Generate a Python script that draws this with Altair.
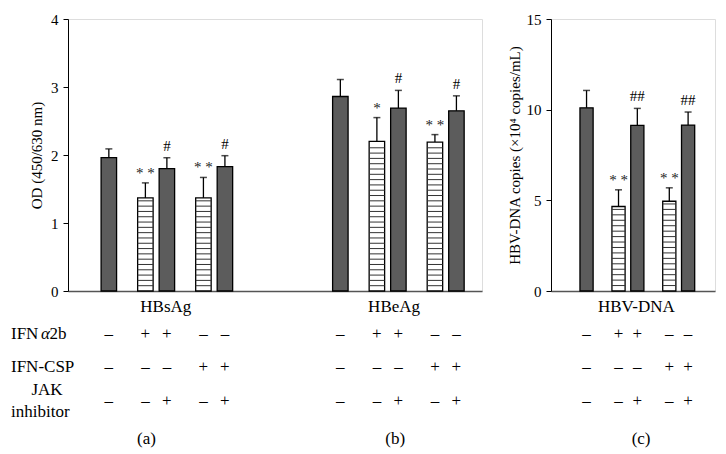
import altair as alt
import pandas as pd

# ---------------- data ----------------
groups = ["HBsAg", "HBeAg"]
conditions = ["Control", "IFN α2b", "IFN α2b + JAK", "IFN-CSP", "IFN-CSP + JAK"]
hbsag_mean = [1.96, 1.37, 1.80, 1.37, 1.83]
hbsag_err = [0.13, 0.22, 0.16, 0.30, 0.16]
hbeag_mean = [2.86, 2.20, 2.69, 2.19, 2.65]
hbeag_err = [0.25, 0.35, 0.26, 0.11, 0.22]
dna_mean = [10.1, 4.66, 9.13, 4.95, 9.15]
dna_err = [0.96, 0.92, 0.94, 0.74, 0.72]
hbsag_sig = ["", "* *", "#", "* *", "#"]
hbeag_sig = ["", "*", "#", "* *", "#"]
dna_sig = ["", "* *", "##", "* *", "##"]
fill_kind = ["dark", "striped", "dark", "striped", "dark"]
ifn_a2b = ["–", "+", "+", "–", "–"]
ifn_csp = ["–", "–", "–", "+", "+"]
jak_inh = ["–", "–", "+", "–", "+"]

# ---------------- layout constants ----------------
FONT = "Liberation Serif"
SLOT = [0, 1.7, 2.7, 4.4, 5.4]
GROUP_OFFSET = 10.77
ROW_Y = {"a2b": 315, "csp": 348, "jak": 382}
GROUP_LABEL_Y = 288
CAPTION_Y = 420
TXT = 17


def build(means, errs, sigs, offset, half_w, stripe_step):
    rows, stripes = [], []
    for i in range(5):
        pos = offset + SLOT[i]
        rows.append(dict(pos=pos, x0=pos - half_w, x1=pos + half_w, base=0.0,
                         mean=means[i], top=means[i] + errs[i], sig=sigs[i],
                         star="*" in sigs[i], hash="#" in sigs[i],
                         kind=fill_kind[i], a2b=ifn_a2b[i], csp=ifn_csp[i],
                         jak=jak_inh[i]))
        if fill_kind[i] == "striped":
            k = 1
            while k * stripe_step < means[i] - stripe_step * 0.3:
                stripes.append(dict(x0=pos - half_w, x1=pos + half_w, yy=k * stripe_step))
                k += 1
    return rows, stripes


def panel(df, sdf, labels_df, xdomain, ydomain, yvalues, ytitle, width, height,
          caption_df, row_labels=False, title_pad=6):
    xs = alt.Scale(domain=xdomain, nice=False, zero=False)
    ys = alt.Scale(domain=ydomain, nice=False)
    base = alt.Chart(df)
    bars = base.mark_rect(stroke="black", strokeWidth=1.3).encode(
        x=alt.X("x0:Q", scale=xs, axis=alt.Axis(labels=False, ticks=False, title=None,
                                                 grid=False, domainColor="#555",
                                                 domainWidth=1.6)),
        x2="x1:Q",
        y=alt.Y("mean:Q", scale=ys, axis=alt.Axis(values=yvalues, format="d", grid=False,
                                                   tickSize=5, labelPadding=5,
                                                   title=ytitle, titlePadding=title_pad,
                                                   labelFont=FONT, labelFontSize=15,
                                                   titleFont=FONT, titleFontSize=15,
                                                   titleFontWeight="normal",
                                                   domainColor="black", tickColor="black",
                                                   labelColor="black", titleColor="black")),
        y2="base:Q",
        fill=alt.Fill("kind:N", scale=alt.Scale(domain=["dark", "striped"],
                                                range=["#5c5c5c", "white"]), legend=None),
    )
    stripes = alt.Chart(sdf).mark_rule(color="#333", strokeWidth=1).encode(
        x=alt.X("x0:Q", scale=xs), x2="x1:Q", y=alt.Y("yy:Q", scale=ys))
    err = base.mark_rule(color="black", strokeWidth=1.3).encode(
        x=alt.X("pos:Q", scale=xs), y=alt.Y("mean:Q", scale=ys), y2="top:Q")
    cap = base.mark_tick(orient="horizontal", size=7, thickness=1.5, color="black").encode(
        x=alt.X("pos:Q", scale=xs), y=alt.Y("top:Q", scale=ys))
    stars = base.transform_filter("datum.star").mark_text(
        baseline="bottom", dy=-2, font=FONT, fontSize=15, color="#222").encode(
        x=alt.X("pos:Q", scale=xs), y=alt.Y("top:Q", scale=ys), text="sig:N")
    hashes = base.transform_filter("datum.hash").mark_text(
        baseline="bottom", dy=-4, font=FONT, fontSize=15, color="black").encode(
        x=alt.X("pos:Q", scale=xs), y=alt.Y("top:Q", scale=ys), text="sig:N")
    txt = dict(font=FONT, fontSize=TXT, color="black", baseline="middle")
    glabel = alt.Chart(labels_df).mark_text(**txt).encode(
        x=alt.X("pos:Q", scale=xs), y=alt.value(GROUP_LABEL_Y), text="name:N")
    r1 = base.mark_text(**txt).encode(x=alt.X("pos:Q", scale=xs), y=alt.value(ROW_Y["a2b"]), text="a2b:N")
    r2 = base.mark_text(**txt).encode(x=alt.X("pos:Q", scale=xs), y=alt.value(ROW_Y["csp"]), text="csp:N")
    r3 = base.mark_text(**txt).encode(x=alt.X("pos:Q", scale=xs), y=alt.value(ROW_Y["jak"]), text="jak:N")
    capt = alt.Chart(caption_df).mark_text(**txt).encode(
        x=alt.X("pos:Q", scale=xs), y=alt.value(CAPTION_Y), text="name:N")
    layers = [bars, stripes, err, cap, stars, hashes, glabel, r1, r2, r3, capt]
    if row_labels:
        lab = pd.DataFrame({"name": ["IFN", "IFN-CSP", "inhibitor"],
                            "yy": [ROW_Y["a2b"], ROW_Y["csp"], 393]})
        lab_t = alt.Chart(lab).mark_text(align="left", **txt).encode(
            x=alt.value(-57), y=alt.Y("yy:Q", scale=None), text="name:N")
        alpha_t = alt.Chart(pd.DataFrame({"name": ["α"]})).mark_text(
            align="left", fontStyle="italic", **txt).encode(
            x=alt.value(-27), y=alt.value(ROW_Y["a2b"]), text="name:N")
        tb_t = alt.Chart(pd.DataFrame({"name": ["2b"]})).mark_text(align="left", **txt).encode(
            x=alt.value(-18.5), y=alt.value(ROW_Y["a2b"]), text="name:N")
        jak_t = alt.Chart(pd.DataFrame({"name": ["JAK"]})).mark_text(align="center", **txt).encode(
            x=alt.value(-21), y=alt.value(371), text="name:N")
        layers += [lab_t, alpha_t, tb_t, jak_t]
    return alt.layer(*layers).properties(width=width, height=height)


rows_l, str_l = [], []
for gi, (m, e, s) in enumerate([(hbsag_mean, hbsag_err, hbsag_sig), (hbeag_mean, hbeag_err, hbeag_sig)]):
    r, st = build(m, e, s, gi * GROUP_OFFSET, 0.36, 0.078)
    rows_l += r
    str_l += st
rows_r, str_r = build(dna_mean, dna_err, dna_sig, 0, 0.35, 0.30)

left = panel(pd.DataFrame(rows_l), pd.DataFrame(str_l),
             pd.DataFrame({"name": groups, "pos": [2.65, GROUP_OFFSET + 2.5]}),
             [-1.9, 17.36], [0, 4], [0, 1, 2, 3, 4], "OD (450/630 nm)", 414, 272,
             pd.DataFrame({"name": ["(a)", "(b)"], "pos": [1.75, GROUP_OFFSET + 2.55]}),
             row_labels=True, title_pad=6)
right = panel(pd.DataFrame(rows_r), pd.DataFrame(str_r),
              pd.DataFrame({"name": ["HBV-DNA"], "pos": [2.65]}),
              [-1.89, 6.83], [0, 15], [0, 5, 10, 15], "HBV-DNA copies (×10⁴ copies/mL)", 164, 272,
              pd.DataFrame({"name": ["(c)"], "pos": [2.9]}),
              row_labels=False, title_pad=4)

chart = alt.hconcat(left, right, spacing=23).properties(
    padding={"left": 2, "top": 3, "right": 2, "bottom": 2}
).configure_view(stroke=None).configure(background="white")

chart.save("out.html", embed_options={"renderer": "svg", "actions": False})
